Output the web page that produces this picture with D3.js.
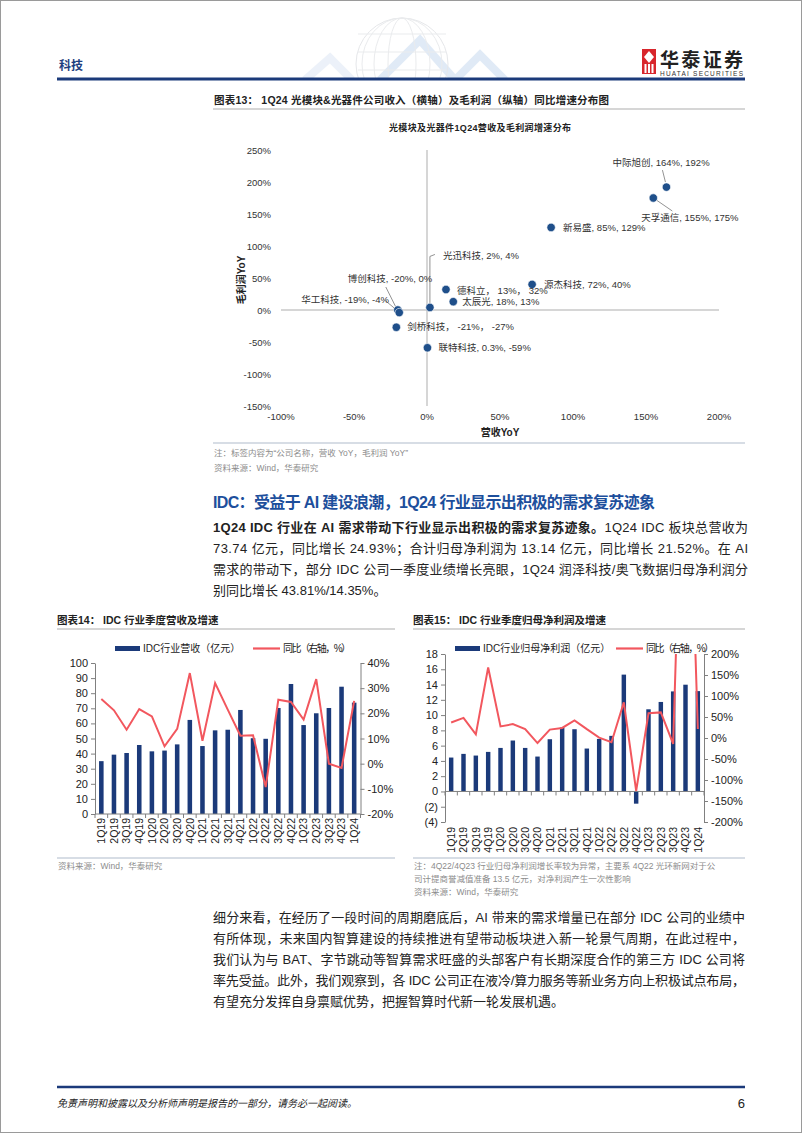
<!DOCTYPE html>
<html>
<head>
<meta charset="utf-8">
<script src="https://cdn.jsdelivr.net/npm/d3@7"></script>
<style>
body { margin: 0; background: #fff; }
svg { display: block; font-family: "Liberation Sans", Arial, "Noto Sans CJK SC", sans-serif; }
</style>
</head>
<body>
<script>
// ---------------------------------------------------------------- data
// scatter: 1Q24 optical module / device companies
const companies = ['中际旭创', '天孚通信', '新易盛', '源杰科技', '德科立', '太辰光', '光迅科技', '博创科技', '华工科技', '剑桥科技', '联特科技'];
const revenueYoY = [164, 155, 85, 72, 13, 18, 2, -20, -19, -21, 0.3];
const grossProfitYoY = [192, 175, 129, 40, 32, 13, 4, 0, -4, -27, -59];
const pointLabels = ['中际旭创, 164%, 192%', '天孚通信, 155%, 175%', '新易盛, 85%, 129%', '源杰科技, 72%, 40%',
    '德科立， 13%， 32%', '太辰光, 18%, 13%', '光迅科技, 2%, 4%', '博创科技, -20%, 0%', '华工科技, -19%, -4%',
    '剑桥科技， -21%， -27%', '联特科技, 0.3%, -59%'];
const scatterXTicks = [-100, -50, 0, 50, 100, 150, 200];
const scatterYTicks = [250, 200, 150, 100, 50, 0, -50, -100, -150];

// IDC quarterly
const quarters = ['1Q19', '2Q19', '3Q19', '4Q19', '1Q20', '2Q20', '3Q20', '4Q20', '1Q21', '2Q21', '3Q21',
    '4Q21', '1Q22', '2Q22', '3Q22', '4Q22', '1Q23', '2Q23', '3Q23', '4Q23', '1Q24'];
const idcRevenue = [35, 39.3, 40.4, 45.7, 41.5, 42, 46.1, 62.3, 45, 55.4, 55.8, 68.9, 50.2, 49.8, 70.2, 86.1, 58.9, 66.7, 70.2, 84.3, 73.74];
const idcRevenueYoY = [25.7, 21.2, 13.5, 21.7, 18.8, 6.9, 13.8, 36, 9.1, 32, 21.5, 11.1, 11.3, -9.3, 25.4, 24.5, 17.5, 33.6, 0, -1.7, 24.93];
const idcProfit = [4.44, 4.92, 4.7, 5.18, 5.7, 6.67, 5.7, 4.57, 6.84, 8.37, 8.15, 5.62, 6.88, 7.28, 15.3, -1.6, 10.76, 11.72, 13.1, 13.98, 13.14];
const idcProfitYoY = [37, 48, 8.7, 168, 27.7, 33, 21, -12, 20, 24, 42, 21, 1, -10, 85, -126, 59, 61, -14, 950, 21.52];
const revenueTicks = [0, 10, 20, 30, 40, 50, 60, 70, 80, 90, 100];
const revenueYoYTicks = [-20, -10, 0, 10, 20, 30, 40];
const profitTicks = [-4, -2, 0, 2, 4, 6, 8, 10, 12, 14, 16, 18];
const profitYoYTicks = [-200, -150, -100, -50, 0, 50, 100, 150, 200];

//---------------------------------------------------------------------------------------------------//

const navy = '#1b3a7a';
const red = '#f2575e';
const grey = '#808080';
const noteGrey = '#8c8c8c';

let svg = d3.select('body').append('svg').attr('width', 802).attr('height', 1133);

svg.append('rect').attr('x', 0.5).attr('y', 0.5).attr('width', 801).attr('height', 1132)
    .attr('fill', '#fff').attr('stroke', '#9a9a9a');

// header watermark (globe + triangles)
let wm = svg.append('g').attr('opacity', 0.35);
wm.append('clipPath').attr('id', 'wmclip').append('rect').attr('x', 0).attr('y', 0).attr('width', 802).attr('height', 78);
let wmg = wm.append('g').attr('clip-path', 'url(#wmclip)');
wmg.append('polyline').attr('points', '305,80 330,58 352,80').attr('fill', 'none').attr('stroke', '#c9d9ee').attr('stroke-width', 8);
wmg.append('polyline').attr('points', '380,80 420,40 455,80 480,55 505,80').attr('fill', 'none').attr('stroke', '#a9c6e8').attr('stroke-width', 8);
wmg.append('circle').attr('cx', 402).attr('cy', 64).attr('r', 46).attr('fill', 'none').attr('stroke', '#b8bcc4');
[14, 28, 40].forEach(rx => wmg.append('ellipse').attr('cx', 402).attr('cy', 64).attr('rx', rx).attr('ry', 46)
    .attr('fill', 'none').attr('stroke', '#c4c8ce'));
[-30, -12, 6, 24].forEach(dy => wmg.append('line').attr('x1', 358).attr('x2', 446).attr('y1', 64 + dy).attr('y2', 64 + dy)
    .attr('stroke', '#c4c8ce'));

svg.append('text').attr('x', 59).attr('y', 70).text('科技')
    .attr('font-size', 12).attr('font-weight', 'bold').attr('fill', '#1e3f80');

// logo
let logo = svg.append('g');
logo.append('rect').attr('x', 642).attr('y', 49).attr('width', 14).attr('height', 25).attr('fill', '#d8262c');
logo.append('path').attr('d', 'M649,51 L654,57 L649,63 L644,57 Z').attr('fill', '#fff');
logo.append('rect').attr('x', 644.5).attr('y', 64).attr('width', 2).attr('height', 9).attr('fill', '#fff');
logo.append('rect').attr('x', 648).attr('y', 64).attr('width', 2).attr('height', 9).attr('fill', '#fff');
logo.append('rect').attr('x', 651.5).attr('y', 64).attr('width', 2).attr('height', 9).attr('fill', '#fff');
logo.append('text').attr('x', 660).attr('y', 67).text('华泰证券')
    .attr('font-size', 19).attr('font-weight', 'bold').attr('fill', '#222').attr('textLength', 83);
logo.append('text').attr('x', 660).attr('y', 76).text('HUATAI SECURITIES')
    .attr('font-size', 6.5).attr('fill', '#333').attr('textLength', 83);

svg.append('line').attr('x1', 57).attr('x2', 745).attr('y1', 79).attr('y2', 79)
    .attr('stroke', navy).attr('stroke-width', 3);

// ---------------------------------------------------------------- figure 13 (scatter)
svg.append('text').attr('x', 214).attr('y', 104)
    .text('图表13：  1Q24 光模块&光器件公司收入（横轴）及毛利润（纵轴）同比增速分布图')
    .attr('font-size', 10.5).attr('font-weight', 'bold').attr('fill', '#222').attr('textLength', 395);
svg.append('line').attr('x1', 213).attr('x2', 745).attr('y1', 109).attr('y2', 109)
    .attr('stroke', '#c8c8c8').attr('stroke-width', 1.5);
svg.append('text').attr('x', 480).attr('y', 131).attr('text-anchor', 'middle')
    .text('光模块及光器件1Q24营收及毛利润增速分布')
    .attr('font-size', 9).attr('font-weight', 'bold').attr('fill', '#222').attr('textLength', 182);

let sx = d3.scaleLinear().domain([-100, 200]).range([281, 719]);
let sy = d3.scaleLinear().domain([-150, 250]).range([406, 150]);

let scatter = svg.append('g');
scatter.append('line').attr('x1', sx(-100)).attr('x2', sx(200)).attr('y1', sy(0)).attr('y2', sy(0))
    .attr('stroke', '#c9c9c9').attr('stroke-width', 1.5);
scatter.append('line').attr('x1', sx(0)).attr('x2', sx(0)).attr('y1', sy(250)).attr('y2', sy(-150))
    .attr('stroke', '#c9c9c9').attr('stroke-width', 1.5);

scatter.selectAll('text.ytick').data(scatterYTicks).enter().append('text')
    .attr('class', 'ytick')
    .attr('x', 271).attr('y', d => sy(d) + 3.5).attr('text-anchor', 'end')
    .text(d => d + '%').attr('font-size', 9.5).attr('fill', '#333');
scatter.selectAll('text.xtick').data(scatterXTicks).enter().append('text')
    .attr('class', 'xtick')
    .attr('x', d => sx(d)).attr('y', 420).attr('text-anchor', 'middle')
    .text(d => d + '%').attr('font-size', 9.5).attr('fill', '#333');

scatter.append('text').attr('x', 500).attr('y', 436).attr('text-anchor', 'middle').text('营收YoY')
    .attr('font-size', 10).attr('font-weight', 'bold').attr('fill', '#222');
scatter.append('text').attr('transform', 'translate(245,280) rotate(-90)').attr('text-anchor', 'middle').text('毛利润YoY')
    .attr('font-size', 10).attr('font-weight', 'bold').attr('fill', '#222');

// label offsets from each point: [dx, dy] of text, optional leader polyline
const labelLayout = [
    { dx: -54, dy: -21, lead: [[-4, -17], [-1, -5]] },
    { dx: -12, dy: 23, lead: [[3, 2], [19, 13]] },
    { dx: 12, dy: 4 },
    { dx: 12, dy: 4 },
    { dx: 11, dy: 4.5 },
    { dx: 9, dy: 3.5 },
    { dx: 13, dy: -48, lead: [[0, -3], [0, -51], [5, -53]] },
    { dx: -50, dy: -28, lead: [[-12, -23], [-2, -3]] },
    { dx: -98, dy: -10, lead: [[-14, -12], [-2, -2]] },
    { dx: 11, dy: 3 },
    { dx: 11, dy: 3 }
];

let points = companies.map((name, i) => ({ name: name, x: revenueYoY[i], y: grossProfitYoY[i], label: pointLabels[i], layout: labelLayout[i] }));

scatter.selectAll('polyline.lead').data(points.filter(p => p.layout.lead)).enter().append('polyline')
    .attr('class', 'lead')
    .attr('points', p => p.layout.lead.map(q => [sx(p.x) + q[0], sy(p.y) + q[1]].join(',')).join(' '))
    .attr('fill', 'none').attr('stroke', '#777').attr('stroke-width', 0.8);

scatter.selectAll('circle').data(points).enter().append('circle')
    .attr('cx', p => sx(p.x)).attr('cy', p => sy(p.y)).attr('r', 4.2)
    .attr('fill', '#1f4f8a').attr('stroke', '#fff').attr('stroke-width', 0.6);

scatter.selectAll('text.plabel').data(points).enter().append('text')
    .attr('class', 'plabel')
    .attr('x', p => sx(p.x) + p.layout.dx).attr('y', p => sy(p.y) + p.layout.dy)
    .text(p => p.label).attr('font-size', 9.5).attr('fill', '#333');

svg.append('line').attr('x1', 213).attr('x2', 745).attr('y1', 443).attr('y2', 443)
    .attr('stroke', '#b0bccb').attr('stroke-width', 1.2);
svg.append('text').attr('x', 214).attr('y', 456).text('注：标签内容为“公司名称，营收 YoY，毛利润 YoY”')
    .attr('font-size', 8.5).attr('fill', noteGrey);
svg.append('text').attr('x', 214).attr('y', 471).text('资料来源：Wind，华泰研究')
    .attr('font-size', 8.5).attr('fill', noteGrey);

// ---------------------------------------------------------------- section text
svg.append('text').attr('x', 213).attr('y', 508)
    .text('IDC：受益于 AI 建设浪潮，1Q24 行业显示出积极的需求复苏迹象')
    .attr('font-size', 16).attr('font-weight', 'bold').attr('fill', '#1d4f9c').attr('textLength', 442);

let para1 = svg.append('g').attr('font-size', 13).attr('fill', '#222');
let l1 = para1.append('text').attr('x', 213).attr('y', 532).attr('textLength', 535);
l1.append('tspan').attr('font-weight', 'bold').text('1Q24 IDC 行业在 AI 需求带动下行业显示出积极的需求复苏迹象。');
l1.append('tspan').text('1Q24 IDC 板块总营收为');
para1.append('text').attr('x', 213).attr('y', 553).attr('textLength', 535)
    .text('73.74 亿元，同比增长 24.93%；合计归母净利润为 13.14 亿元，同比增长 21.52%。在 AI');
para1.append('text').attr('x', 213).attr('y', 574).attr('textLength', 535)
    .text('需求的带动下，部分 IDC 公司一季度业绩增长亮眼，1Q24 润泽科技/奥飞数据归母净利润分');
para1.append('text').attr('x', 213).attr('y', 595).text('别同比增长 43.81%/14.35%。');

// ---------------------------------------------------------------- dual axis bar + line charts
function drawDual(cfg) {
    let g = svg.append('g');
    g.append('text').attr('x', cfg.titleX).attr('y', 624).text(cfg.title)
        .attr('font-size', 10.5).attr('font-weight', 'bold').attr('fill', '#222');
    g.append('line').attr('x1', cfg.titleX).attr('x2', cfg.ruleEnd).attr('y1', 629).attr('y2', 629)
        .attr('stroke', '#c8c8c8').attr('stroke-width', 1.5);

    let x = d3.scaleBand().domain(quarters).range(cfg.xRange).paddingInner(0.64).paddingOuter(0.32);
    let yL = d3.scaleLinear().domain(cfg.leftDomain).range(cfg.yRange);
    let yR = d3.scaleLinear().domain(cfg.rightDomain).range(cfg.yRange);

    // legend
    g.append('rect').attr('x', cfg.legend[0]).attr('y', 646).attr('width', 25).attr('height', 5).attr('fill', navy);
    g.append('text').attr('x', cfg.legend[0] + 28).attr('y', 652).text(cfg.barName).attr('font-size', 10).attr('fill', '#222');
    g.append('line').attr('x1', cfg.legend[1]).attr('x2', cfg.legend[1] + 27).attr('y1', 648.5).attr('y2', 648.5)
        .attr('stroke', red).attr('stroke-width', 2.2);
    g.append('text').attr('x', cfg.legend[1] + 30).attr('y', 652).text('同比（右轴，%）')
        .attr('font-size', 10).attr('fill', '#222').attr('textLength', 68);

    // axes
    let left = g.append('g').attr('transform', 'translate(' + cfg.xRange[0] + ',0)')
        .call(d3.axisLeft(yL).tickValues(cfg.leftTicks).tickSize(4).tickSizeOuter(0).tickFormat(cfg.leftFormat));
    let right = g.append('g').attr('transform', 'translate(' + cfg.xRange[1] + ',0)')
        .call(d3.axisRight(yR).tickValues(cfg.rightTicks).tickSize(4).tickSizeOuter(0).tickFormat(d => d + '%'));
    [left, right].forEach(a => {
        a.selectAll('path, line').attr('stroke', grey);
        a.selectAll('text').attr('font-size', 11).attr('fill', '#222')
            .attr('font-family', '"Liberation Sans", Arial, sans-serif');
    });
    left.selectAll('text').attr('x', -7);
    right.selectAll('text').attr('x', 7);

    // bars
    g.selectAll('rect.bar').data(quarters).enter().append('rect')
        .attr('class', 'bar')
        .attr('x', q => x(q))
        .attr('width', x.bandwidth())
        .attr('y', (q, i) => yL(Math.max(0, cfg.bars[i])))
        .attr('height', (q, i) => Math.abs(yL(cfg.bars[i]) - yL(0)))
        .attr('fill', navy);

    // category axis at zero
    let step = x.step();
    let bounds = quarters.map((q, i) => cfg.xRange[0] + i * step).concat([cfg.xRange[1]]);
    g.append('line').attr('x1', cfg.xRange[0]).attr('x2', cfg.xRange[1]).attr('y1', yL(0)).attr('y2', yL(0))
        .attr('stroke', grey);
    g.selectAll('line.xtick').data(bounds).enter().append('line')
        .attr('class', 'xtick')
        .attr('x1', d => d).attr('x2', d => d).attr('y1', yL(0)).attr('y2', yL(0) + 4)
        .attr('stroke', grey);
    g.selectAll('text.cat').data(quarters).enter().append('text')
        .attr('class', 'cat')
        .attr('transform', q => 'translate(' + (x(q) + x.bandwidth() / 2 + 3.8) + ',' + cfg.catY + ') rotate(-90)')
        .attr('text-anchor', 'end').text(q => q)
        .attr('font-size', 10.5).attr('fill', '#222');

    // line (clipped to the plot)
    g.append('clipPath').attr('id', cfg.id).append('rect')
        .attr('x', cfg.xRange[0]).attr('y', cfg.yRange[1])
        .attr('width', cfg.xRange[1] - cfg.xRange[0]).attr('height', cfg.yRange[0] - cfg.yRange[1]);
    let line = d3.line()
        .x((d, i) => x(quarters[i]) + x.bandwidth() / 2)
        .y(d => yR(d));
    g.append('path').attr('d', line(cfg.line)).attr('clip-path', 'url(#' + cfg.id + ')')
        .attr('fill', 'none').attr('stroke', red).attr('stroke-width', 2);

    // notes
    g.append('line').attr('x1', cfg.titleX).attr('x2', cfg.ruleEnd).attr('y1', 858).attr('y2', 858)
        .attr('stroke', '#b0bccb').attr('stroke-width', 1.2);
    cfg.notes.forEach((t, i) => g.append('text').attr('x', cfg.titleX + 1).attr('y', 869 + i * 13).text(t)
        .attr('font-size', 8.5).attr('fill', noteGrey));
}

drawDual({
    id: 'clip14',
    title: '图表14：  IDC 行业季度营收及增速',
    titleX: 57, ruleEnd: 395,
    xRange: [95, 360.5], yRange: [814, 663],
    leftDomain: [0, 100], rightDomain: [-20, 40],
    leftTicks: revenueTicks, rightTicks: revenueYoYTicks,
    leftFormat: d => d,
    bars: idcRevenue, line: idcRevenueYoY,
    barName: 'IDC行业营收（亿元）',
    legend: [115, 253],
    catY: 818,
    notes: ['资料来源：Wind，华泰研究']
});

drawDual({
    id: 'clip15',
    title: '图表15：  IDC 行业季度归母净利润及增速',
    titleX: 413, ruleEnd: 745,
    xRange: [445, 704], yRange: [822, 654],
    leftDomain: [-4, 18], rightDomain: [-200, 200],
    leftTicks: profitTicks, rightTicks: profitYoYTicks,
    leftFormat: d => d < 0 ? '(' + (-d) + ')' : d,
    bars: idcProfit, line: idcProfitYoY,
    barName: 'IDC行业归母净利润（亿元）',
    legend: [455, 616],
    catY: 827,
    notes: ['注：4Q22/4Q23 行业归母净利润增长率较为异常，主要系 4Q22 光环新网对于公',
        '司计提商誉减值准备 13.5 亿元，对净利润产生一次性影响',
        '资料来源：Wind，华泰研究']
});

// ---------------------------------------------------------------- closing paragraph
const closing = [
    '细分来看，在经历了一段时间的周期磨底后，AI 带来的需求增量已在部分 IDC 公司的业绩中',
    '有所体现，未来国内智算建设的持续推进有望带动板块进入新一轮景气周期，在此过程中，',
    '我们认为与 BAT、字节跳动等智算需求旺盛的头部客户有长期深度合作的第三方 IDC 公司将',
    '率先受益。此外，我们观察到，各 IDC 公司正在液冷/算力服务等新业务方向上积极试点布局，',
    '有望充分发挥自身禀赋优势，把握智算时代新一轮发展机遇。'
];
svg.append('g').attr('font-size', 13).attr('fill', '#222')
    .selectAll('text').data(closing).enter().append('text')
    .attr('x', 213).attr('y', (d, i) => 922 + i * 21)
    .attr('textLength', (d, i) => i < closing.length - 1 ? 532 : null)
    .text(d => d);

// ---------------------------------------------------------------- footer
svg.append('line').attr('x1', 57).attr('x2', 745).attr('y1', 1087).attr('y2', 1087)
    .attr('stroke', navy).attr('stroke-width', 2.5);
svg.append('text').attr('x', 57).attr('y', 1107).text('免责声明和披露以及分析师声明是报告的一部分，请务必一起阅读。')
    .attr('font-size', 10).attr('font-style', 'italic').attr('fill', '#222');
svg.append('text').attr('x', 745).attr('y', 1108).attr('text-anchor', 'end').text('6')
    .attr('font-size', 13).attr('fill', '#222');
</script>
</body>
</html>
